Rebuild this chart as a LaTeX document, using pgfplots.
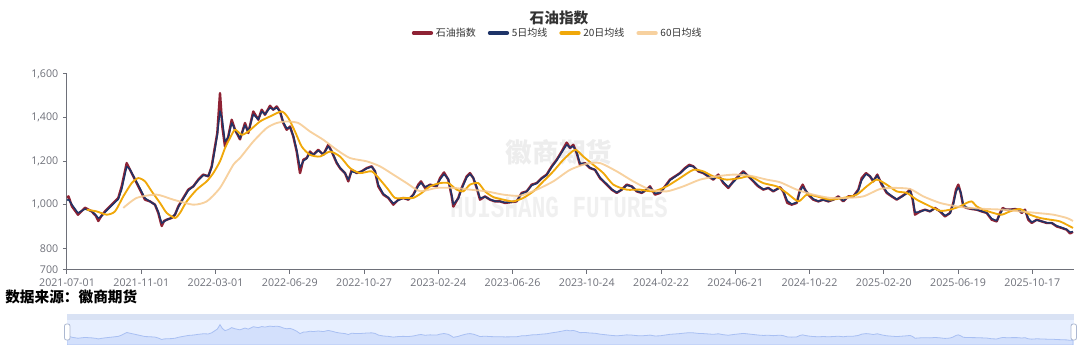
\documentclass[border=0pt]{standalone}
\usepackage{fontspec}
\setmainfont{Open Sans}
\newfontfamily\cjk{Noto Sans CJK SC}
\newfontfamily\wmono{Liberation Mono}
\usepackage{pgfplots}
\usepackage{pgfplotstable}
\pgfplotsset{compat=1.18}

\definecolor{cIdx}{HTML}{8E2234}
\definecolor{cFive}{HTML}{1E3468}
\definecolor{cTwenty}{HTML}{F0A80A}
\definecolor{cSixty}{HTML}{F6C98E}
\definecolor{axisgray}{HTML}{6E7079}
\definecolor{txtdark}{HTML}{333333}
\definecolor{sfiller}{HTML}{E7EFFF}
\definecolor{shandle}{HTML}{D9E2F4}
\definecolor{sarea}{HTML}{D3E0FC}
\definecolor{sline}{HTML}{A9C0F3}
\definecolor{hgray}{HTML}{ACB8D1}

\pgfplotstableread{
x idx ma5
67 1031 1020
68.5 1038 1024
72 992 1000
78 954 962
85 986 980
91.7 969 970
96 948 952
98.3 925 938
101 946 945
105 969 965
111.7 1000 996
118.3 1031 1025
121.7 1084 1070
126.7 1191 1175
130 1160 1162
135 1115 1118
140 1069 1075
145 1023 1030
150 1015 1015
155 1000 1000
158.3 962 968
161.7 902 915
164 925 922
166.7 931 930
171.7 939 940
175 954 955
178.3 992 988
183.3 1031 1028
188.3 1069 1065
193.3 1084 1084
198.3 1115 1112
203.3 1138 1135
208.3 1130 1132
211.7 1176 1170
215 1267 1255
217.3 1329 1320
220 1512 1430
222.3 1359 1390
225 1267 1290
228.3 1313 1310
231.7 1390 1375
235 1344 1345
240 1300 1305
245 1375 1365
248.3 1329 1335
253.3 1428 1415
258.3 1390 1392
261.7 1436 1428
265 1413 1415
270 1454 1445
273.3 1436 1437
276.7 1451 1445
280 1428 1428
283.3 1375 1380
286.7 1344 1350
290 1359 1355
293.3 1313 1318
296.7 1244 1252
300 1145 1170
303.3 1206 1200
306.7 1214 1212
310 1244 1238
313.3 1229 1230
318.3 1252 1248
323.3 1229 1232
328.3 1275 1268
331.7 1244 1246
336.7 1191 1195
340 1168 1170
345 1145 1145
348.3 1107 1115
351.7 1160 1152
356.7 1145 1146
361.7 1153 1153
366.7 1168 1166
371.7 1176 1174
375 1153 1155
378.3 1084 1092
383.3 1046 1050
388.3 1031 1033
393.3 1000 1006
398.3 1023 1020
403.3 1031 1030
408.3 1023 1024
413.3 1046 1044
418.3 1092 1085
421 1107 1100
425 1077 1082
430 1092 1090
436.7 1084 1086
440 1122 1115
444 1148 1140
448.3 1115 1118
451.7 1038 1045
453.3 991 1002
458.3 1031 1028
461.7 1077 1072
466.7 1130 1125
470 1145 1140
473.3 1122 1124
476.7 1077 1082
480 1023 1030
485 1038 1036
490 1023 1024
495 1015 1016
500 1015 1015
505 1008 1010
510 1011 1011
516.7 1015 1016
521.7 1054 1050
526.7 1061 1060
531.7 1092 1088
536.7 1099 1098
541.7 1122 1120
546.7 1138 1136
551.7 1176 1172
556.7 1206 1203
561.7 1244 1240
566.7 1285 1275
570 1260 1262
573.3 1275 1268
576.7 1237 1240
580 1183 1190
585 1191 1189
590 1168 1170
595 1160 1160
600 1122 1125
606.7 1092 1095
611.7 1069 1071
616.7 1054 1056
621.7 1069 1068
626.7 1092 1089
631.7 1084 1084
636.7 1061 1063
641.7 1054 1055
646.7 1069 1068
650 1084 1080
655 1046 1052
660 1054 1055
665 1084 1081
670 1115 1112
675 1130 1128
680 1145 1144
685 1168 1165
689.3 1183 1178
693.3 1176 1175
698.3 1153 1155
703.3 1145 1146
708.3 1130 1131
713.3 1115 1117
718.3 1138 1133
723.3 1099 1104
728.3 1077 1081
733.3 1107 1103
738.3 1130 1127
743.3 1153 1148
748.3 1130 1132
753.3 1107 1110
758.3 1084 1087
763.3 1069 1071
768.3 1077 1076
773.3 1061 1063
780 1080 1077
783.3 1060 1063
787.3 1008 1018
791.7 1000 1003
796.7 1008 1010
800 1069 1060
802.7 1092 1082
805 1069 1070
808.3 1046 1049
813.3 1023 1026
818.3 1015 1016
823.3 1023 1022
828.3 1015 1016
833.3 1023 1022
838.3 1038 1035
843.3 1015 1018
848.3 1038 1035
853.3 1038 1038
858.3 1069 1065
861.7 1122 1112
866 1145 1140
870 1130 1131
873.3 1107 1110
877.3 1138 1133
881.7 1092 1098
886.7 1054 1058
891.7 1038 1040
896.7 1023 1025
901.7 1038 1036
906.7 1054 1052
910 1069 1064
912.7 1023 1030
915 954 965
920 969 967
925 977 976
930 969 970
935 985 982
940 969 970
945 946 950
950 962 960
953.3 1008 1000
956 1069 1058
958.3 1092 1080
960.7 1054 1058
963.3 992 1000
966.7 985 987
971.7 980 981
976.7 977 977
981.7 969 970
986.7 962 963
991.7 931 936
996.7 923 926
1000 962 955
1002.7 985 978
1006 977 978
1010 977 977
1015 980 979
1018.3 977 977
1021.7 962 965
1025 977 974
1028.3 931 938
1031.7 916 920
1036.7 931 929
1041.7 923 924
1046.7 916 917
1051.7 916 916
1056.7 900 903
1061.7 893 895
1066.7 885 886
1070 868 874
1073 875 876
}\dataidx

\pgfplotstableread{
x ma20
86.7 977
96.7 969
106.7 954
115 969
123.3 1038
131.7 1099
138.3 1122
145 1107
151.7 1061
160 1008
166.7 962
175 939
180 962
186.7 1015
196.7 1069
206.7 1107
213.3 1145
220 1199
225 1260
230 1306
235 1344
241.7 1321
248.3 1336
260 1382
270 1405
281.7 1428
288.3 1398
295 1336
301.7 1267
310 1229
320 1221
330 1244
340 1221
350 1168
360 1145
371.7 1153
380 1115
388.3 1069
395 1031
405 1031
413.3 1031
421.7 1054
430 1084
440 1099
448.3 1099
456.7 1069
463.3 1061
470 1092
478.3 1099
485 1061
493.3 1035
503.3 1023
513.3 1015
523.3 1031
533.3 1061
543.3 1107
553.3 1153
563.3 1206
575 1252
583.3 1221
593.3 1183
603.3 1145
613.3 1092
626.7 1069
640 1069
653.3 1061
666.7 1084
680 1122
693.3 1160
703.3 1153
713.3 1130
726.7 1115
740 1122
750 1130
763.3 1099
776.7 1084
786.7 1054
798.3 1015
806.7 1046
816.7 1038
830 1023
843.3 1031
856.7 1046
866.7 1084
876.7 1115
886.7 1092
896.7 1061
906.7 1054
916.7 1023
926.7 1000
940 972
950 977
960 992
966.7 1008
971.7 1015
976.7 992
983.3 977
993.3 962
1001.7 954
1010 969
1020 980
1030 954
1040 939
1050 931
1060 923
1073 893
}\datatwenty

\pgfplotstableread{
x ma60
123.3 985
136.7 1031
156.7 1046
173.3 1023
193.3 1000
206.7 1015
220 1077
233.3 1183
240 1214
253.3 1290
266.7 1352
276.7 1375
286.7 1382
298.3 1375
310 1336
323.3 1298
336.7 1252
350 1214
366.7 1199
380 1176
393.3 1138
406.7 1099
420 1062
436.7 1077
453.3 1077
470 1069
486.7 1061
503.3 1046
520 1041
536.7 1069
553.3 1107
570 1160
586.7 1188
600 1191
616.7 1153
633.3 1107
650 1069
666.7 1061
683.3 1084
700 1115
716.7 1130
733.3 1138
750 1133
766.7 1115
780 1103
796.7 1069
813.3 1046
830 1031
846.7 1031
863.3 1038
880 1072
893.3 1077
910 1072
923.3 1038
940 1008
956.7 992
970 985
986.7 980
1003.3 977
1020 969
1036.7 962
1053.3 954
1066.7 939
1073 925
}\datasixty

\begin{document}
\begin{tikzpicture}[x=0.75pt,y=0.75pt]
\useasboundingbox (0,0) rectangle (1080,360);

% watermark
\node[text=black!7, font=\cjk\bfseries\fontsize{20}{20}\selectfont] at (559,208) {徽商期货};
\node[text=black!6, font=\wmono\bfseries\fontsize{17}{17}\selectfont, yscale=1.35] at (559,153) {HUISHANG FUTURES};

% title and source
\node[font=\cjk\bfseries\fontsize{11}{13}\selectfont, text=txtdark] at (559,342.5) {石油指数};
\node[anchor=west, font=\cjk\bfseries\fontsize{11}{13}\selectfont, text=black, inner sep=0pt] at (5,63) {数据来源：徽商期货};

\begin{axis}[
  scale only axis,
  width=755.25pt, height=147pt,
  at={(50.25pt,67.5pt)}, anchor=south west,
  xmin=67, xmax=1074, ymin=700, ymax=1600,
  axis x line*=bottom, axis y line*=left,
  axis line style={axisgray, line width=0.75pt},
  tick style={axisgray, line width=0.75pt},
  tick align=outside, major tick length=3pt,
  xtick={67,141.25,215.5,289.75,364,438.25,512.5,586.75,661,735.25,809.5,883.75,958,1032.25},
  xticklabels={2021-07-01,2021-11-01,2022-03-01,2022-06-29,2022-10-27,2023-02-24,2023-06-26,2023-10-24,2024-02-22,2024-06-21,2024-10-22,2025-02-20,2025-06-19,2025-10-17},
  ytick={700,800,1000,1200,1400,1600},
  yticklabels={700,800,{1,000},{1,200},{1,400},{1,600}},
  tick label style={font=\fontsize{8}{9}\selectfont, text=axisgray},
  /pgf/number format/assume math mode=true,
  legend style={at={(0.4876,1.209)}, anchor=center, draw=none, fill=none,
    legend columns=4, font=\cjk\fontsize{7.5}{9}\selectfont, text=txtdark,
    /tikz/every even column/.append style={column sep=7pt},
    inner sep=0pt},
  legend image code/.code={\draw[#1, line width=3pt, line cap=round] (0pt,0pt) -- (13pt,0pt);},
]
\addplot[cIdx, line width=1.8pt, line join=round] table[x=x,y=idx]{\dataidx};
\addlegendentry{石油指数}
\addplot[cFive, line width=1.1pt, line join=round] table[x=x,y=ma5]{\dataidx};
\addlegendentry{5日均线}
\addplot[cTwenty, line width=1.4pt, line join=round, smooth, tension=0.4] table[x=x,y=ma20]{\datatwenty};
\addlegendentry{20日均线}
\addplot[cSixty, line width=1.4pt, opacity=0.85, line join=round, smooth, tension=0.4] table[x=x,y=ma60]{\datasixty};
\addlegendentry{60日均线}
\end{axis}

% data zoom slider
\fill[sfiller] (67,15) rectangle (1074,46);
\fill[shandle] (67,40) rectangle (1074,46);
\begin{axis}[
  scale only axis, hide axis,
  width=755.25pt, height=18.75pt,
  at={(50.25pt,11.25pt)}, anchor=south west,
  xmin=67, xmax=1074, ymin=675, ymax=1705,
]
\addplot[draw=sline, line width=0.6pt, fill=sarea] table[x=x,y=idx]{\dataidx} \closedcycle;
\end{axis}
\draw[hgray, fill=white, line width=0.6pt, rounded corners=1.5pt] (64.5,20) rectangle (70,36);
\draw[hgray, fill=white, line width=0.6pt, rounded corners=1.5pt] (1071,20) rectangle (1076.5,36);
\end{tikzpicture}
\end{document}
